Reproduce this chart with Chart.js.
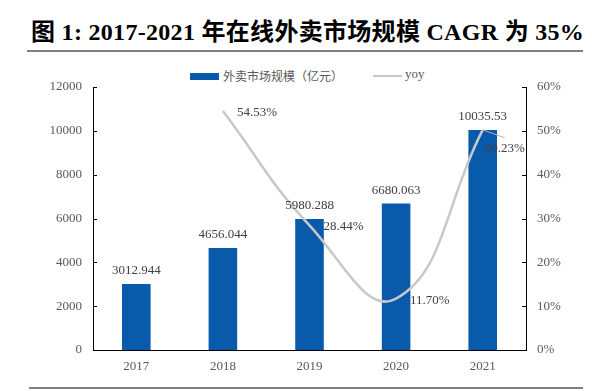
<!DOCTYPE html>
<html>
<head>
<meta charset="utf-8">
<script src="https://cdn.jsdelivr.net/npm/chart.js@4"></script>
<style>
    body { margin: 0; background: #fff; }
    #wrap { position: relative; width: 592px; height: 391px; overflow: hidden; }
    #title { position: absolute; left: 31px; top: 20px; font: bold 24px/24px "Liberation Serif", "Noto Sans CJK SC"; letter-spacing: 0.3px; color: #000; white-space: nowrap; }
    .rule { position: absolute; height: 2px; background: #7f7f7f; }
    .legend { position: absolute; font: 12px "Noto Sans CJK SC"; color: #595959; white-space: nowrap; }
    canvas { position: absolute; left: 0; top: 0; }
</style>
</head>
<body>
<div id="wrap">
    <div id="title">图 1: 2017-2021 年在线外卖市场规模 CAGR 为 35%</div>
    <div class="rule" style="left:27px; top:50px; width:556px;"></div>
    <div style="position:absolute; left:190px; top:73px; width:29px; height:7px; background:#0a5aab;"></div>
    <div class="legend" style="left:223px; top:67px;">外卖市场规模（亿元）</div>
    <div style="position:absolute; left:373px; top:75px; width:29px; height:2px; background:#c8c8c8;"></div>
    <div class="legend" style="left:405px; top:66px; font-family:'Liberation Serif'; font-size:13px;">yoy</div>
    <canvas id="chart" width="592" height="391"></canvas>
    <div class="rule" style="left:29px; top:387px; width:554px;"></div>
</div>
<script>
// 数据
const years = ['2017', '2018', '2019', '2020', '2021'];
const marketSize = [3012.944, 4656.044, 5980.288, 6680.063, 10035.53];
const marketLabels = ['3012.944', '4656.044', '5980.288', '6680.063', '10035.53'];
const yoy = [null, 54.53, 28.44, 11.70, 50.23];
const yoyLabels = ['', '54.53%', '28.44%', '11.70%', '50.23%'];

const barColor = '#0a5aab';
const lineColor = '#c8c8c8';
const textColor = '#595959';
const tickFont = { family: 'Liberation Serif', size: 13 };

// 数据标签 + 轴内刻度
const labelPlugin = {
    id: 'labels',
    afterDraw(chart) {
        const ctx = chart.ctx;
        ctx.save();
        ctx.font = '13px "Liberation Serif"';
        ctx.fillStyle = '#404040';

        const bars = chart.getDatasetMeta(1).data;
        ctx.textAlign = 'center';
        ctx.textBaseline = 'middle';
        bars.forEach((bar, i) => {
            ctx.fillText(marketLabels[i], bar.x, bar.y - 13);
        });

        const pts = chart.getDatasetMeta(0).data;
        ctx.textAlign = 'left';
        pts.forEach((p, i) => {
            if (!yoyLabels[i]) return;
            if (i === 4) {
                ctx.strokeStyle = '#b0b0b0';
                ctx.lineWidth = 1;
                ctx.beginPath();
                ctx.moveTo(p.x, p.y);
                ctx.lineTo(p.x + 22, p.y + 8);
                ctx.stroke();
                ctx.fillText(yoyLabels[i], p.x + 2, p.y + 19);
            } else {
                ctx.fillText(yoyLabels[i], p.x + 14, p.y + 1.5);
            }
        });

        // 刻度线朝内
        ctx.strokeStyle = '#000';
        ctx.lineWidth = 1;
        const yl = chart.scales.y, yr = chart.scales.y1;
        yl.ticks.forEach(t => {
            const py = Math.round(yl.getPixelForValue(t.value)) + 0.5;
            ctx.beginPath(); ctx.moveTo(yl.right, py); ctx.lineTo(yl.right + 4, py); ctx.stroke();
        });
        yr.ticks.forEach(t => {
            const py = Math.round(yr.getPixelForValue(t.value)) + 0.5;
            ctx.beginPath(); ctx.moveTo(yr.left - 4, py); ctx.lineTo(yr.left, py); ctx.stroke();
        });
        ctx.restore();
    }
};

new Chart(document.getElementById('chart'), {
    data: {
        labels: years,
        datasets: [
            {
                type: 'line', label: 'yoy', data: yoy, yAxisID: 'y1', order: 0,
                borderColor: lineColor, borderWidth: 2.5, pointRadius: 0, tension: 0.45, fill: false
            },
            {
                type: 'bar', label: '外卖市场规模（亿元）', data: marketSize, yAxisID: 'y', order: 1,
                backgroundColor: barColor, barPercentage: 0.33, categoryPercentage: 1
            }
        ]
    },
    options: {
        responsive: false, animation: false,
        layout: { padding: { top: 87, left: 0, right: 0, bottom: 0 } },
        plugins: { legend: { display: false }, tooltip: { enabled: false } },
        scales: {
            x: {
                grid: { display: false, drawTicks: false },
                border: { display: true, color: '#000', width: 1 },
                ticks: { color: textColor, font: tickFont, padding: 9 },
                afterFit: s => { s.height = 41; }
            },
            y: {
                position: 'left', min: 0, max: 12000,
                grid: { display: false, drawTicks: false },
                border: { display: true, color: '#000', width: 1 },
                ticks: { stepSize: 2000, color: textColor, font: tickFont, padding: 11, callback: v => String(v) },
                afterFit: s => { s.width = 93; }
            },
            y1: {
                position: 'right', min: 0, max: 60,
                grid: { display: false, drawTicks: false },
                border: { display: true, color: '#000', width: 1 },
                ticks: { stepSize: 10, color: textColor, font: tickFont, padding: 11, callback: v => v + '%' },
                afterFit: s => { s.width = 66; }
            }
        }
    },
    plugins: [labelPlugin]
});
</script>
</body>
</html>
